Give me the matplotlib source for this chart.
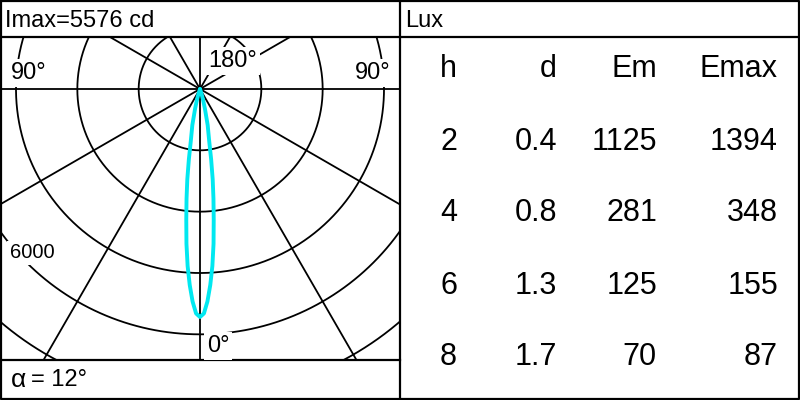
import numpy as np
import matplotlib
matplotlib.use("Agg")
import matplotlib.pyplot as plt

plt.rcParams['font.family'] = ['Liberation Sans', 'DejaVu Sans']

# ---- data ----
imax_cd = 5576
beam_angle = 12
angles_deg = [0, 1, 2, 3, 4, 5, 6, 7, 8, 9, 10, 12, 14, 16, 18, 20, 25]
intensity = [5576, 5490, 5200, 4800, 4340, 3800, 3210, 2700, 2230, 1740,
             1300, 900, 500, 260, 110, 30, 0]
ring_values = [1500, 3000, 4500, 6000, 7500, 9000]
spoke_angles = list(range(0, 360, 30))

table_cols = ["h", "d", "Em", "Emax"]
h_vals = [2, 4, 6, 8]
d_vals = ["0.4", "0.8", "1.3", "1.7"]
em_vals = [1125, 281, 125, 70]
emax_vals = [1394, 348, 155, 87]

W, H = 800, 400
fig = plt.figure(figsize=(8, 4), dpi=100)
fig.patch.set_facecolor('white')

# ---- polar panel as cartesian axes (cd units) ----
px_per_cd = 228.0 / imax_cd
cx_px, cy_px = 200, 89
top_px, bot_px = 37, 360
ax = fig.add_axes([0, (H - bot_px) / H, 400 / W, (bot_px - top_px) / H])
ax.set_xlim(-cx_px / px_per_cd, (400 - cx_px) / px_per_cd)
ax.set_ylim(-(bot_px - cy_px) / px_per_cd, (cy_px - top_px) / px_per_cd)
ax.axis('off')

t = np.linspace(0, 2 * np.pi, 721)
for r in ring_values:
    ax.plot(r * np.cos(t), r * np.sin(t), color='black', lw=1.3, zorder=1)
for a in spoke_angles:
    ar = np.deg2rad(a)
    ax.plot([0, 12000 * np.cos(ar)], [0, 12000 * np.sin(ar)],
            color='black', lw=1.3, zorder=1)

# lobe (angle measured from downward vertical)
ang = np.array(angles_deg, dtype=float)
I = np.array(intensity, dtype=float)
full_ang = np.concatenate([-ang[::-1], ang[1:]])
full_I = np.concatenate([I[::-1], I[1:]])
th = np.deg2rad(full_ang)
ax.plot(full_I * np.sin(th), -full_I * np.cos(th), color='#00E8F0',
        lw=2.8, zorder=4, solid_joinstyle='round', solid_capstyle='round')

# ---- overlay for frame & text in pixel coords ----
ov = fig.add_axes([0, 0, 1, 1])
ov.set_xlim(0, W)
ov.set_ylim(H, 0)
ov.axis('off')
ov.patch.set_alpha(0)

lw_frame = 1.6
ov.plot([1, 799, 799, 1, 1], [1, 1, 399, 399, 1], color='black', lw=lw_frame)
ov.plot([0, 800], [37, 37], color='black', lw=lw_frame)
ov.plot([400, 400], [0, 400], color='black', lw=lw_frame)
ov.plot([0, 400], [360, 360], color='black', lw=lw_frame)

bb = dict(facecolor='white', edgecolor='none', pad=2)
small = 17
ov.text(5, 21, f"Imax={imax_cd} cd", fontsize=small, va='center', ha='left')
ov.text(405, 21, "Lux", fontsize=small, va='center', ha='left')
ov.text(11, 73, "90°", fontsize=small, va='center', ha='left', bbox=bb, zorder=3)
ov.text(391, 73, "90°", fontsize=small, va='center', ha='right', bbox=bb, zorder=3)
ov.text(208, 61, "180°", fontsize=small, va='center', ha='left', bbox=bb, zorder=3)
ov.text(207, 346, "0°", fontsize=small, va='center', ha='left', bbox=bb, zorder=3)
ov.text(10, 253, "6000", fontsize=14.5, va='center', ha='left', bbox=bb, zorder=3)
ov.text(11, 380, "α", fontsize=19, va='center', ha='left')
ov.text(31, 380, f"= {beam_angle}°", fontsize=small, va='center', ha='left')

# ---- table ----
col_right = [457, 557, 657, 778]
row_y = [69, 142, 213, 286, 357]
big = 22
for c, name in enumerate(table_cols):
    ov.text(col_right[c], row_y[0], name, fontsize=big, ha='right', va='center')
for i in range(len(h_vals)):
    vals = [str(h_vals[i]), d_vals[i], str(em_vals[i]), str(emax_vals[i])]
    for c, v in enumerate(vals):
        ov.text(col_right[c], row_y[i + 1], v, fontsize=big, ha='right', va='center')

fig.savefig("out.png", dpi=100, facecolor='white')
